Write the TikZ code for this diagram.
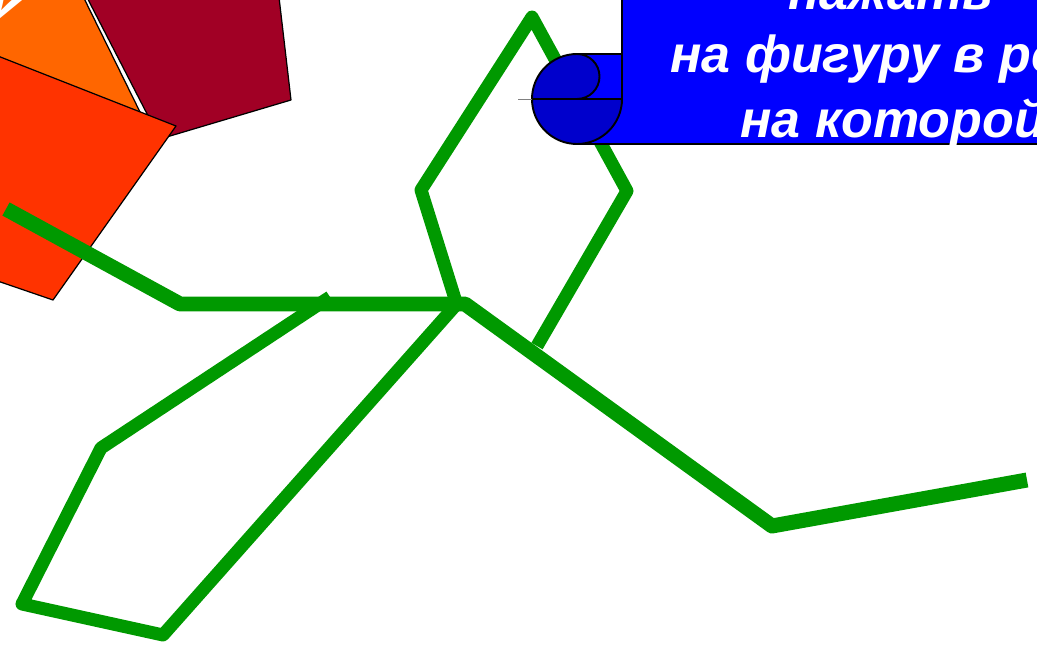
\documentclass[tikz,border=0pt]{standalone}
\usepackage{fontspec}
\setmainfont{Liberation Sans}
\usetikzlibrary{positioning}
\definecolor{leaf}{HTML}{009900}
\definecolor{flame}{HTML}{FF3300}
\definecolor{tangerine}{HTML}{FF6600}
\definecolor{wine}{HTML}{A10025}
\definecolor{banner}{HTML}{0000FF}
\definecolor{curl}{HTML}{0000CC}

\begin{document}
\begin{tikzpicture}[x=0.02cm, y=-0.02cm, line join=round,
    stem/.style={draw=leaf, line width=0.3cm},
    twig/.style={draw=leaf, line width=0.26cm},
    petal/.style={draw=black, line width=0.7pt},
    scroll/.style={draw=black, line width=1.1pt},
    caption/.style={text=white, inner sep=0pt, font=\bfseries\itshape\fontsize{29.6}{36}\selectfont}]
    \useasboundingbox (0,0) rectangle (1037,648);
    \clip (0,0) rectangle (1037,648);
    % petals in the corner
    \filldraw[fill=tangerine, petal] (-20,-20) -- (75,-20) -- (140,112) -- (150,140) -- (-20,80) -- cycle;
    \node[text=white, rotate=-30, inner sep=0pt, font=\bfseries\fontsize{30}{36}\selectfont] (glyph) at (2,9) {у};
    \filldraw[fill=wine, petal] (78,-20) -- (160,139) -- (291,100) -- (277,-20) -- cycle;
    \filldraw[fill=flame, petal] (-20,49) -- (176,126) -- (53,300) -- (-20,275) -- cycle;
    % green figure
    \draw[twig] (456,302) -- (421,190) -- (532,17) -- (627,191) -- (537,346);
    \draw[twig] (330,297) -- (101,448) -- (22,604) -- (163,635) -- (455,306);
    \draw[stem] (6,209) -- (180,304) -- (465,304) -- (772,526) -- (1027,480);
    % scroll with the task
    \filldraw[fill=banner, scroll] (577,144) -- (1060,144) -- (1060,-20) -- (622,-20) -- (622,99) -- (577,99) -- cycle;
    \filldraw[fill=banner, scroll] (577,54) rectangle (622,99);
    \filldraw[fill=curl, scroll] (532,99) arc[start angle=180, end angle=270, radius=45]
        arc[start angle=270, end angle=450, radius=22.5] -- cycle;
    \filldraw[fill=curl, scroll] (532,99) arc[start angle=180, end angle=0, radius=45] -- cycle;
    \draw[gray, very thin] (518,99) -- (532,99);
    \node[caption, anchor=base] (task1) at (891,10) {нажать};
    \node[caption, anchor=base west] (task2) at (670,73) {на фигуру в ромбе};
    \node[caption, anchor=base west] (task3) at (740,138) {на которой};
\end{tikzpicture}
\end{document}
